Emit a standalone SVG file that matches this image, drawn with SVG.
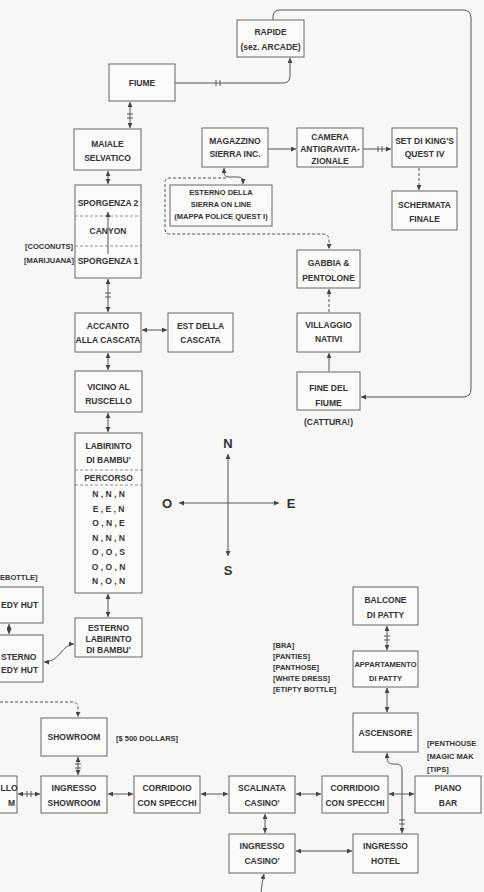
<svg xmlns="http://www.w3.org/2000/svg" width="484" height="892" viewBox="0 0 484 892">
<defs>
<marker id="ar" viewBox="0 0 6 6" refX="6" refY="3" markerWidth="5" markerHeight="5" markerUnits="userSpaceOnUse" orient="auto-start-reverse"><path d="M0,0 L6,3 L0,6 z" fill="#444"/></marker>
</defs>
<style>
.box{fill:#fbfbf9;stroke:#666;stroke-width:1}
.t{font-family:"Liberation Sans",Arial,sans-serif;font-weight:bold;font-size:8.5px;fill:#333;text-anchor:middle}
.s{font-size:7.5px}
.l{text-anchor:start}
.e{text-anchor:end}
.big{font-size:13px;fill:#333}
.c{fill:none;stroke:#555;stroke-width:1}
.d{stroke-dasharray:3 2}
.sep{stroke:#777;stroke-width:0.8;stroke-dasharray:3 2}
.a{marker-end:url(#ar)}
.b{marker-start:url(#ar);marker-end:url(#ar)}
</style>
<rect x="0" y="0" width="484" height="892" fill="#f7f7f5"/>
<g id="connectors">
<path class="c a" d="M175 83 H283 Q290 83 290 76 V58"/>
<path class="c" d="M216 80 V86 M220 80 V86"/>
<path class="c a" d="M273 20 V17 Q273 10 280 10 H463 Q471 10 471 18 V389 Q471 397 463 397 H361"/>
<path class="c b" d="M130 102 V128"/>
<path class="c" d="M127 114 H133 M127 118 H133"/>
<path class="c b" d="M108 171 V184"/>
<path class="c a" d="M108 253 V212"/>
<path class="c b" d="M108 279 V312"/>
<path class="c" d="M105 293 H111 M105 297 H111"/>
<path class="c b" d="M142 330 H167"/>
<path class="c b" d="M108 353 V370"/>
<path class="c b" d="M108 413 V432"/>
<path class="c b" d="M108 594 V617"/>
<path class="c b" d="M9 624 V634"/>
<path class="c b" d="M74 644 C62 644 60 662 44 662"/>
<path class="c d a" d="M0 702 H72 Q78 702 78 708 V717"/>
<path class="c b" d="M78 757 V775"/>
<path class="c" d="M75 764 H81 M75 768 H81"/>
<path class="c b" d="M18 794 H40"/>
<path class="c" d="M27 791 V797 M31 791 V797"/>
<path class="c b" d="M108 794 H133"/>
<path class="c b" d="M201 794 H228"/>
<path class="c b" d="M296 794 H321"/>
<path class="c b" d="M389 794 H414"/>
<path class="c b" d="M387 753 V758 Q387 764 393 764 H396 Q402 764 402 770 V833"/>
<path class="c" d="M399 820 H405 M399 824 H405"/>
<path class="c b" d="M265 814 V833"/>
<path class="c b" d="M296 851 H352"/>
<path class="c a" d="M261 892 Q262 882 264 874"/>
<path class="c b" d="M387 688 V712"/>
<path class="c b" d="M387 626 V650"/>
<path class="c" d="M384 636 H390 M384 640 H390"/>
<path class="c a" d="M268 149 H296"/>
<path class="c a" d="M363 149 H391"/>
<path class="c" d="M378 146 V152 M382 146 V152"/>
<path class="c d a" d="M419 168 V190"/>
<path class="c b" d="M224 168 V172 Q224 177 229 177 H238 Q243 177 243 181 V184"/>
<path class="c d a" d="M226 178 H170 Q165 178 165 183 V229 Q165 234 170 234 H323 Q329 234 329 240 V249"/>
<path class="c d a" d="M329 312 V289"/>
<path class="c a" d="M329 371 V353"/>
<path class="c b" d="M228 454 V556"/>
<path class="c b" d="M179 503 H279"/>
</g>
<g id="compass">
<text class="t big" x="228" y="448">N</text>
<text class="t big" x="228" y="575">S</text>
<text class="t big" x="167" y="508">O</text>
<text class="t big" x="291" y="508">E</text>
</g>
<g id="rapide"><rect class="box" x="237" y="20" width="67" height="37"/><text class="t" x="270.5" y="35">RAPIDE</text><text class="t" x="270.5" y="50">(sez. ARCADE)</text></g>
<g id="fiume"><rect class="box" x="109" y="64" width="66" height="37"/><text class="t" x="142" y="86">FIUME</text></g>
<g id="maiale"><rect class="box" x="74" y="129" width="67" height="41"/><text class="t" x="107.5" y="147">MAIALE</text><text class="t" x="107.5" y="161">SELVATICO</text></g>
<g id="sporgenza"><rect class="box" x="75" y="185" width="66" height="93"/><line class="sep" x1="75" y1="216" x2="141" y2="216"/><line class="sep" x1="75" y1="246" x2="141" y2="246"/><text class="t" x="108" y="206">SPORGENZA 2</text><text class="t" x="108" y="234">CANYON</text><text class="t" x="108" y="264">SPORGENZA 1</text><line class="c a" x1="108" y1="254" x2="108" y2="212"/></g>
<g id="items-coconuts"><text class="t s e" x="73" y="249">[COCONUTS]</text><text class="t s e" x="74" y="263">[MARIJUANA]</text></g>
<g id="accanto"><rect class="box" x="75" y="313" width="66" height="39"/><text class="t" x="108" y="329">ACCANTO</text><text class="t" x="108" y="343">ALLA CASCATA</text></g>
<g id="est"><rect class="box" x="168" y="313" width="65" height="39"/><text class="t" x="200.5" y="329">EST DELLA</text><text class="t" x="200.5" y="343">CASCATA</text></g>
<g id="vicino"><rect class="box" x="75" y="371" width="67" height="41"/><text class="t" x="108.5" y="390">VICINO AL</text><text class="t" x="108.5" y="404">RUSCELLO</text></g>
<g id="labirinto"><rect class="box" x="75" y="433" width="67" height="160"/><line class="sep" x1="75" y1="470" x2="142" y2="470"/><line class="sep" x1="75" y1="485" x2="142" y2="485"/><text class="t" x="108.5" y="449">LABIRINTO</text><text class="t" x="108.5" y="463">DI BAMBU'</text><text class="t" x="108.5" y="481">PERCORSO</text><text class="t" x="108.5" y="497">N , N , N</text><text class="t" x="108.5" y="511.5">E , E , N</text><text class="t" x="108.5" y="526">O , N , E</text><text class="t" x="108.5" y="540.5">N , N , N</text><text class="t" x="108.5" y="555">O , O , S</text><text class="t" x="108.5" y="569.5">O , O , N</text><text class="t" x="108.5" y="584">N , O , N</text></g>
<g id="esterno-labirinto"><rect class="box" x="75" y="618" width="67" height="39"/><text class="t" x="108.5" y="631">ESTERNO</text><text class="t" x="108.5" y="642">LABIRINTO</text><text class="t" x="108.5" y="653">DI BAMBU'</text></g>
<g id="hut"><rect class="box" x="-30" y="587" width="73" height="36"/><text class="t l" x="1" y="608">EDY HUT</text><text class="t s l" x="0" y="580">EBOTTLE]</text></g>
<g id="esterno-hut"><rect class="box" x="-30" y="635" width="73" height="47"/><text class="t l" x="1" y="660">STERNO</text><text class="t l" x="1" y="673">EDY HUT</text></g>
<g id="showroom"><rect class="box" x="41" y="718" width="66" height="38"/><text class="t" x="74" y="740">SHOWROOM</text></g>
<g id="dollars"><text class="t s l" x="116" y="741">[$ 500 DOLLARS]</text></g>
<g id="ingresso-showroom"><rect class="box" x="41" y="776" width="66" height="37"/><text class="t" x="74" y="791">INGRESSO</text><text class="t" x="74" y="806">SHOWROOM</text></g>
<g id="left-room"><rect class="box" x="-40" y="776" width="57" height="37"/><text class="t l" x="0.5" y="791">LLO</text><text class="t e" x="15" y="806">M</text></g>
<g id="corridoio1"><rect class="box" x="134" y="776" width="66" height="37"/><text class="t" x="167" y="791">CORRIDOIO</text><text class="t" x="167" y="806">CON SPECCHI</text></g>
<g id="scalinata"><rect class="box" x="229" y="776" width="66" height="37"/><text class="t" x="262" y="791">SCALINATA</text><text class="t" x="262" y="806">CASINO'</text></g>
<g id="corridoio2"><rect class="box" x="322" y="776" width="66" height="37"/><text class="t" x="355" y="791">CORRIDOIO</text><text class="t" x="355" y="806">CON SPECCHI</text></g>
<g id="piano"><rect class="box" x="415" y="776" width="66" height="37"/><text class="t" x="448" y="791">PIANO</text><text class="t" x="448" y="806">BAR</text></g>
<g id="ingresso-casino"><rect class="box" x="229" y="834" width="66" height="39"/><text class="t" x="262" y="849">INGRESSO</text><text class="t" x="262" y="864">CASINO'</text></g>
<g id="ingresso-hotel"><rect class="box" x="353" y="834" width="65" height="39"/><text class="t" x="385.5" y="849">INGRESSO</text><text class="t" x="385.5" y="864">HOTEL</text></g>
<g id="ascensore"><rect class="box" x="353" y="713" width="65" height="39"/><text class="t" x="385.5" y="736">ASCENSORE</text></g>
<g id="penthouse"><text class="t s l" x="427" y="746">[PENTHOUSE</text><text class="t s l" x="427" y="759">[MAGIC MAK</text><text class="t s l" x="427" y="772">[TIPS]</text></g>
<g id="appartamento"><rect class="box" x="353" y="651" width="65" height="36"/><text class="t s" x="385.5" y="667">APPARTAMENTO</text><text class="t s" x="385.5" y="681">DI PATTY</text></g>
<g id="patty-items"><text class="t s l" x="273" y="648">[BRA]</text><text class="t s l" x="273" y="659">[PANTIES]</text><text class="t s l" x="273" y="670">[PANTHOSE]</text><text class="t s l" x="273" y="681">[WHITE DRESS]</text><text class="t s l" x="273" y="692">[ETIPTY BOTTLE]</text></g>
<g id="balcone"><rect class="box" x="353" y="587" width="65" height="38"/><text class="t" x="385.5" y="603">BALCONE</text><text class="t" x="385.5" y="618">DI PATTY</text></g>
<g id="magazzino"><rect class="box" x="202" y="128" width="66" height="39"/><text class="t" x="235" y="144">MAGAZZINO</text><text class="t" x="235" y="157">SIERRA INC.</text></g>
<g id="camera"><rect class="box" x="297" y="128" width="66" height="39"/><text class="t" x="330" y="140">CAMERA</text><text class="t" x="330" y="152">ANTIGRAVITA-</text><text class="t" x="330" y="164">ZIONALE</text></g>
<g id="set"><rect class="box" x="392" y="128" width="65" height="39"/><text class="t" x="424.5" y="144">SET DI KING'S</text><text class="t" x="424.5" y="157">QUEST IV</text></g>
<g id="schermata"><rect class="box" x="392" y="191" width="65" height="39"/><text class="t" x="424.5" y="208">SCHERMATA</text><text class="t" x="424.5" y="222">FINALE</text></g>
<g id="esterno-sierra"><rect class="box" x="170" y="185" width="102" height="41"/><text class="t s" x="221" y="195">ESTERNO DELLA</text><text class="t s" x="221" y="207">SIERRA ON LINE</text><text class="t s" x="221" y="219">(MAPPA POLICE QUEST I)</text></g>
<g id="gabbia"><rect class="box" x="297" y="250" width="63" height="38"/><text class="t" x="328.5" y="266">GABBIA &amp;</text><text class="t" x="328.5" y="281">PENTOLONE</text></g>
<g id="villaggio"><rect class="box" x="297" y="313" width="63" height="39"/><text class="t" x="328.5" y="328">VILLAGGIO</text><text class="t" x="328.5" y="342">NATIVI</text></g>
<g id="fine"><rect class="box" x="297" y="372" width="63" height="38"/><text class="t" x="328.5" y="391">FINE DEL</text><text class="t" x="328.5" y="406">FIUME</text><text class="t" x="328.5" y="425">(CATTURA!)</text></g>
</svg>
